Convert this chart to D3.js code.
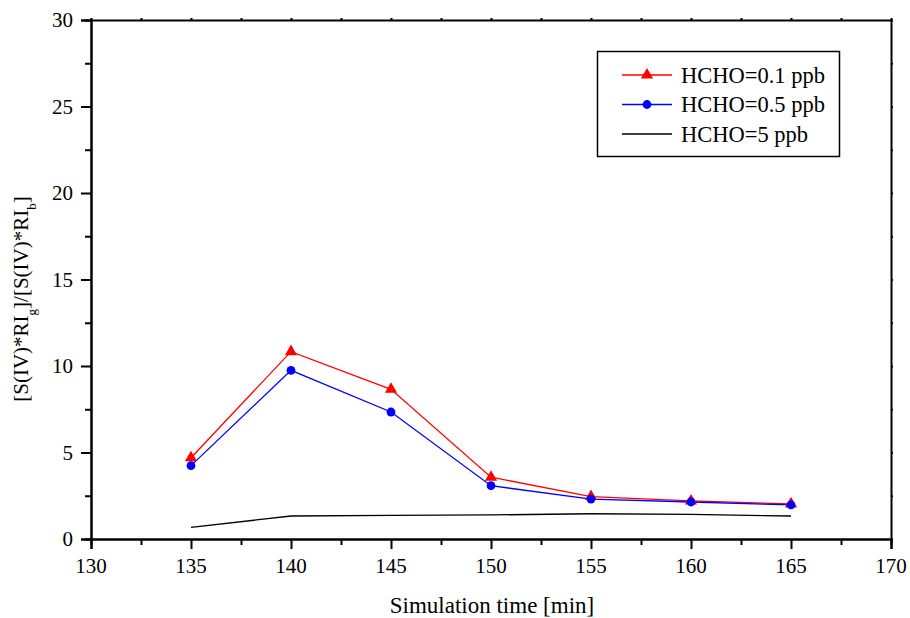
<!DOCTYPE html>
<html><head><meta charset="utf-8">
<script src="https://cdn.jsdelivr.net/npm/d3@7"></script>
<style>body{margin:0;background:#fff}svg{display:block}</style>
</head><body><svg id="c" width="910" height="618"></svg>
<script>
const times = [135, 140, 145, 150, 155, 160, 165];
const hcho01 = [4.70, 10.83, 8.65, 3.57, 2.45, 2.20, 2.03];
const hcho05 = [4.24, 9.75, 7.34, 3.08, 2.31, 2.14, 1.97];
const hcho5 = [0.67, 1.33, 1.36, 1.39, 1.46, 1.42, 1.33];
const xTicks = [130, 135, 140, 145, 150, 155, 160, 165, 170];
const yTicks = [0, 5, 10, 15, 20, 25, 30];
const seriesNames = ["HCHO=0.1 ppb", "HCHO=0.5 ppb", "HCHO=5 ppb"];
const seriesColors = ["#ff0000", "#0000ff", "#000000"];
const seriesMarkers = ["triangle", "circle", "none"];

const FONT = "'Liberation Serif', 'Times New Roman', serif";
const svg = d3.select("#c");
const L = 91, R = 891, T = 20, B = 539;
const x = d3.scaleLinear().domain([130, 170]).range([L, R]);
const y = d3.scaleLinear().domain([0, 30]).range([B, T]);

const minorX = d3.range(132.5, 170, 5);
const minorY = d3.range(2.5, 30, 5);

// bottom axis
const gx = svg.append("g").attr("transform", `translate(0,${B})`)
  .call(d3.axisBottom(x).tickValues(xTicks).tickSize(10).tickFormat(""));
gx.append("g").call(d3.axisBottom(x).tickValues(minorX).tickSize(6).tickFormat(""));
// left axis
const gy = svg.append("g").attr("transform", `translate(${L},0)`)
  .call(d3.axisLeft(y).tickValues(yTicks).tickSize(10).tickFormat(""));
gy.append("g").call(d3.axisLeft(y).tickValues(minorY).tickSize(6).tickFormat(""));
// top axis
svg.append("g").attr("transform", `translate(0,${T})`)
  .call(d3.axisTop(x).tickValues(xTicks.concat(minorX)).tickSizeInner(2).tickSizeOuter(0).tickFormat(""));
// right axis
svg.append("g").attr("transform", `translate(${R},0)`)
  .call(d3.axisRight(y).tickValues(yTicks.concat(minorY)).tickSizeInner(2).tickSizeOuter(0).tickFormat(""));

svg.selectAll(".domain").attr("stroke", "#000").attr("stroke-width", 2);
svg.selectAll(".tick line").attr("stroke", "#000").attr("stroke-width", 2);

// tick labels drawn from the scales
svg.append("g").selectAll("text").data(xTicks).join("text")
  .attr("x", d => x(d)).attr("y", B + 34).attr("text-anchor", "middle")
  .style("font-family", FONT).style("font-size", "21px").text(d => d);
svg.append("g").selectAll("text").data(yTicks).join("text")
  .attr("x", L - 18).attr("y", d => y(d) + 7).attr("text-anchor", "end")
  .style("font-family", FONT).style("font-size", "21px").text(d => d);

// lines
const data = [hcho01, hcho05, hcho5];
const line = d3.line().x((d, i) => x(times[i])).y(d => y(d));
data.forEach((vals, k) => {
  svg.append("path").datum(vals).attr("d", line).attr("fill", "none")
    .attr("stroke", seriesColors[k]).attr("stroke-width", 1.3);
});
function drawMarker(g, type, cx, cy, color) {
  if (type === "triangle") {
    g.append("path").attr("d", d3.symbol().type(d3.symbolTriangle).size(64)())
      .attr("transform", `translate(${cx},${cy})`).attr("fill", color);
  } else if (type === "circle") {
    g.append("circle").attr("cx", cx).attr("cy", cy).attr("r", 4.4).attr("fill", color);
  }
}
const gm = svg.append("g");
data.forEach((vals, k) => {
  vals.forEach((v, i) => drawMarker(gm, seriesMarkers[k], x(times[i]), y(v), seriesColors[k]));
});

// legend
const lg = svg.append("g");
lg.append("rect").attr("x", 597.5).attr("y", 51.5).attr("width", 242).attr("height", 105)
  .attr("fill", "#fff").attr("stroke", "#000").attr("stroke-width", 1.5);
seriesNames.forEach((n, k) => {
  const yy = 75 + k * 29.5;
  lg.append("line").attr("x1", 622).attr("x2", 672).attr("y1", yy).attr("y2", yy)
    .attr("stroke", seriesColors[k]).attr("stroke-width", 1.3);
  drawMarker(lg, seriesMarkers[k], 647, yy, seriesColors[k]);
  lg.append("text").attr("x", 681).attr("y", yy + 7.5)
    .style("font-family", FONT).style("font-size", "22.5px").text(n);
});

// axis titles
svg.append("text").attr("x", 492).attr("y", 613).attr("text-anchor", "middle")
  .style("font-family", FONT).style("font-size", "23px").text("Simulation time [min]");
const yl = svg.append("text").attr("transform", "translate(28,299) rotate(-90)")
  .attr("text-anchor", "middle").style("font-family", FONT).style("font-size", "21px");
yl.append("tspan").text("[S(IV)*RI");
yl.append("tspan").attr("baseline-shift", "sub").style("font-size", "13px").text("g");
yl.append("tspan").text("]/[S(IV)*RI");
yl.append("tspan").attr("baseline-shift", "sub").style("font-size", "13px").text("b");
yl.append("tspan").text("]");
</script></body></html>
